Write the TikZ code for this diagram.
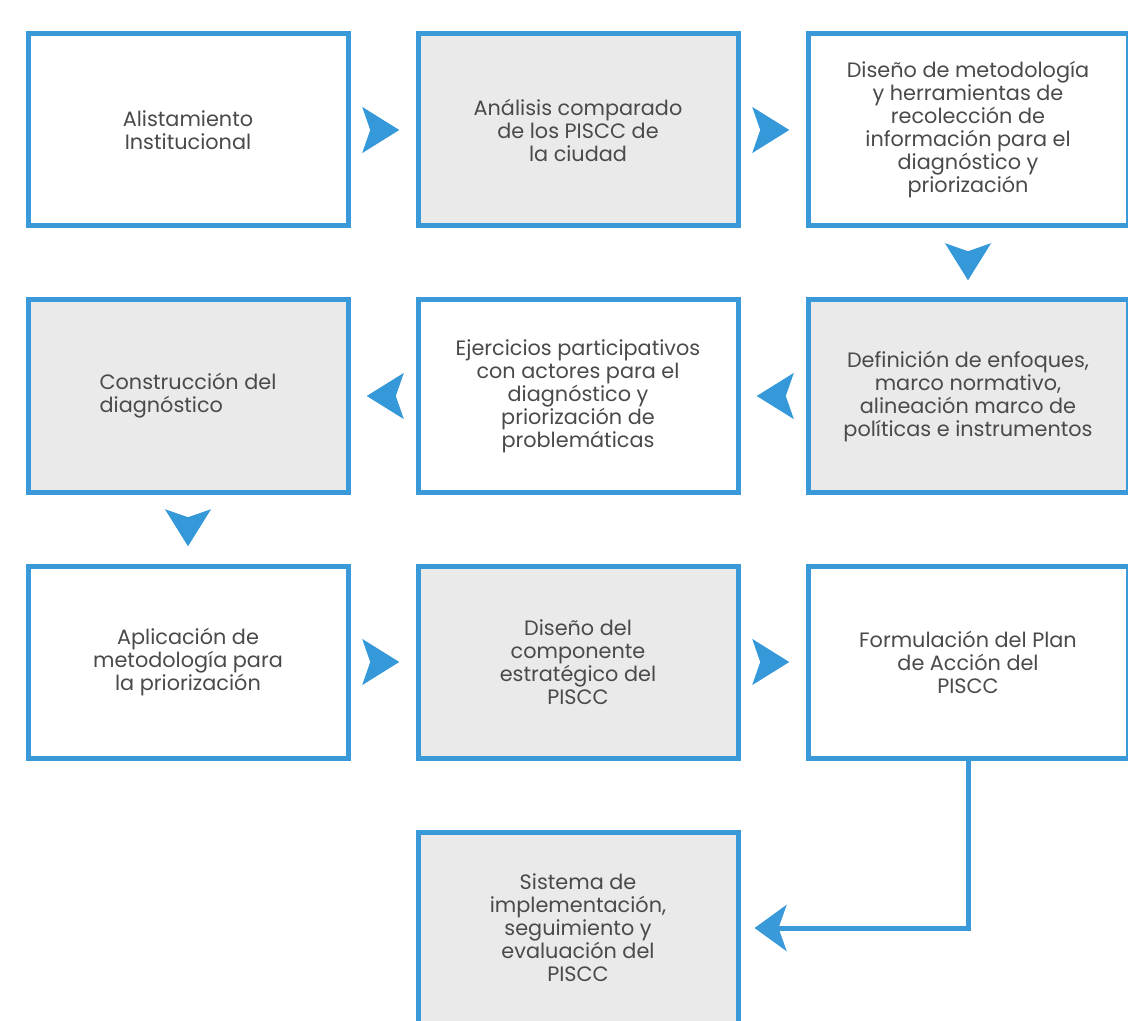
\documentclass[tikz,border=0pt]{standalone}
\usepackage{fontspec}
\newfontfamily\poppins{Poppins}
\usepackage{xcolor}
\definecolor{frameBlue}{HTML}{3A9AD9}
\definecolor{chevronBlue}{HTML}{3598D8}
\definecolor{paleGray}{HTML}{EAEAEB}
\definecolor{bodyText}{HTML}{4A4A4A}
\usepackage{tikz}
\usetikzlibrary{
    arrows.meta,
    positioning,
    decorations.markings
}
\tikzset{
    % Base style for all phase boxes
    phase base/.style={
        font=\poppins\fontsize{10.4}{11.5}\selectfont,
        align=center,
        text=bodyText,
        rectangle,
        minimum width=160pt,
        minimum height=96pt,
        inner sep=4pt,
        draw=frameBlue,
        line width=2.5pt,
    },
    % White phase box
    phase/.style={
        phase base,
        fill=white,
    },
    % Gray phase box
    phase shaded/.style={
        phase base,
        fill=paleGray,
    },
    % Loose arrowhead between two boxes
    chevron/.style={
        decoration={
            markings,
            mark=at position 0.75 with {\arrow[color=chevronBlue]{Stealth[length=18.5pt, width=23pt, inset=4pt]}}
        },
        postaction={decorate},
    },
    % Elbow connector with arrowhead
    elbow arrow/.style={
        -{Stealth[length=16pt, width=23pt, inset=4pt]},
        line width=2.5pt,
        draw=frameBlue,
        shorten >=7pt,
    },
}
\begin{document}
\begin{tikzpicture}[x=0.5pt, y=-0.5pt, node distance=34.5pt and 32.5pt]
    \useasboundingbox (0,0) rectangle (1128,1021);
    \clip (0,0) rectangle (1128,1021);

    % first row
    \node (alist) [phase] at (188,130) {Alistamiento\\Institucional};
    \node (analisis) [phase shaded, right=of alist] {Análisis comparado\\de los PISCC de\\la ciudad};
    \node (diseno) [phase, right=of analisis] {Diseño de metodología\\y herramientas de\\recolección de\\información para el\\diagnóstico y\\priorización};

    % second row
    \node (definicion) [phase shaded, below=of diseno] {Definición de enfoques,\\marco normativo,\\alineación marco de\\políticas e instrumentos};
    \node (ejercicios) [phase, left=of definicion] {Ejercicios participativos\\con actores para el\\diagnóstico y\\priorización de\\problemáticas};
    \node (construccion) [phase shaded, left=of ejercicios, align=left] {Construcción del\\diagnóstico};

    % third row
    \node (aplicacion) [phase, below=of construccion] {Aplicación de\\metodología para\\la priorización};
    \node (componente) [phase shaded, right=of aplicacion] {Diseño del\\componente\\estratégico del\\PISCC};
    \node (formulacion) [phase, right=of componente] {Formulación del Plan\\de Acción del\\PISCC};

    % last row
    \node (sistema) [phase shaded, below=of componente] {Sistema de\\implementación,\\seguimiento y\\evaluación del\\PISCC};

    \path [chevron] (alist.east) -- (analisis.west);
    \path [chevron] (analisis.east) -- (diseno.west);
    \path [chevron] (diseno.south) -- (definicion.north);
    \path [chevron] (definicion.west) -- (ejercicios.east);
    \path [chevron] (ejercicios.west) -- (construccion.east);
    \path [chevron] (construccion.south) -- (aplicacion.north);
    \path [chevron] (aplicacion.east) -- (componente.west);
    \path [chevron] (componente.east) -- (formulacion.west);
    \draw [elbow arrow] (formulacion.south) |- (sistema.east);
\end{tikzpicture}
\end{document}
